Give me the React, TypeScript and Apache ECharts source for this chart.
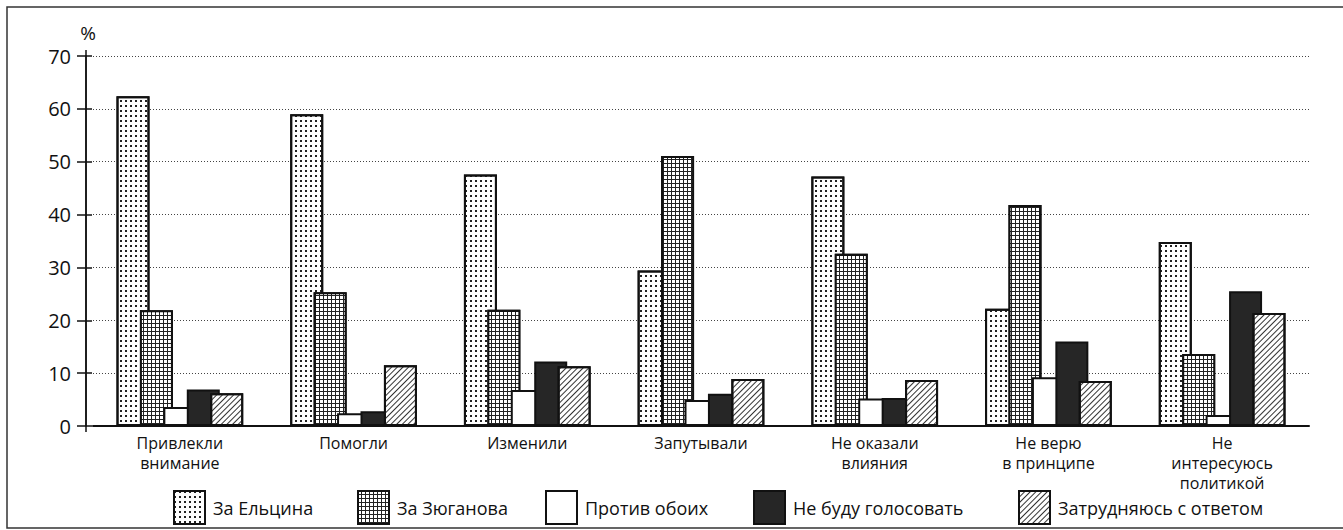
import React, { useEffect, useRef } from "react";
import * as echarts from "echarts";

const categories = [
  "Привлекли\nвнимание",
  "Помогли",
  "Изменили",
  "Запутывали",
  "Не оказали\nвлияния",
  "Не верю\nв принципе",
  "Не\nинтересуюсь\nполитикой",
];
const seriesNames = ["За Ельцина", "За Зюганова", "Против обоих", "Не буду голосовать", "Затрудняюсь с ответом"];
const yeltsin = [62.4, 59.0, 47.6, 29.4, 47.2, 22.2, 34.8];
const zyuganov = [21.9, 25.3, 22.0, 51.1, 32.6, 41.8, 13.6];
const againstBoth = [3.6, 2.4, 6.8, 4.9, 5.2, 9.2, 2.1];
const notVoting = [6.9, 2.8, 12.2, 6.1, 5.3, 16.0, 25.5];
const undecided = [6.2, 11.5, 11.3, 8.9, 8.7, 8.5, 21.4];
const yTicks = [0, 10, 20, 30, 40, 50, 60, 70];

const FONT = "'Open Sans', 'Noto Sans', sans-serif";

export default function App() {
  const ref = useRef<HTMLDivElement>(null);
  useEffect(() => {
    document.body.style.margin = "0";
    const chart = echarts.init(ref.current!, undefined, { renderer: "svg" });

    const dots = {
      symbol: "rect",
      symbolSize: 1,
      color: "#222",
      dashArrayX: [1.3, 2.9],
      dashArrayY: [1.3, 2.9],
    };
    const grid = {
      symbol: "rect",
      symbolSize: 1,
      color: "#fff",
      dashArrayX: [2.4, 1],
      dashArrayY: [2.4, 1],
    };
    const hatch = {
      symbol: "rect",
      symbolSize: 1,
      color: "#333",
      dashArrayX: [1, 0],
      dashArrayY: [1, 2.2],
      rotation: -Math.PI / 4,
    };

    const data = [yeltsin, zyuganov, againstBoth, notVoting, undecided];
    const fills = ["#fff", "#222", "#fff", "#262626", "#fff"];
    const decals: any[] = [dots, grid, null, null, hatch];

    const series = data.map((d, i) => ({
      name: seriesNames[i],
      type: "bar",
      data: d,
      barWidth: 33,
      barGap: "-29%",
      itemStyle: {
        color: fills[i],
        borderColor: "#111",
        borderWidth: 2,
        ...(decals[i] ? { decal: decals[i] } : {}),
      },
    }));

    const legendLefts = [168, 352, 540, 748, 1013];
    const legend = seriesNames.map((n, i) => ({
      data: [n],
      left: legendLefts[i],
      top: 485,
      itemWidth: 31,
      itemHeight: 33,
      icon: "rect",
      textStyle: { fontFamily: FONT, fontSize: 18, color: "#111", padding: [0, 0, 0, 3] },
      selectedMode: false,
    }));

    chart.setOption({
      animation: false,
      backgroundColor: "#fff",
      legend,
      grid: { left: 93, right: 34, top: 56, bottom: 104 },
      xAxis: {
        type: "category",
        data: categories,
        axisLine: { lineStyle: { color: "#111", width: 2 } },
        axisTick: { show: false },
        axisLabel: {
          fontFamily: FONT,
          fontSize: 16,
          color: "#111",
          lineHeight: 20,
          margin: 7,
        },
      },
      yAxis: [
        {
          type: "value",
          min: 0,
          max: 70,
          interval: 10,
          position: "left",
          offset: 7,
          name: "%",
          nameLocation: "end",
          nameGap: 14,
          nameTextStyle: { fontFamily: FONT, fontSize: 19, color: "#111", align: "center", padding: [0, 0, 0, 4] },
          axisLine: { show: true, lineStyle: { color: "#111", width: 1.5 } },
          axisTick: { show: true, length: 9, lineStyle: { color: "#111", width: 1.5 } },
          axisLabel: {
            fontFamily: FONT,
            fontSize: 20,
            color: "#111",
            margin: 15,
            formatter: (v: number) => (yTicks.includes(v) ? String(v) : ""),
          },
          splitLine: { show: true, lineStyle: { color: "#444", width: 1, type: [1, 2] } },
        },
        {
          type: "value",
          min: 0,
          max: 70,
          interval: 10,
          position: "left",
          offset: 7,
          axisLine: { show: false },
          axisTick: { show: true, inside: true, length: 6, lineStyle: { color: "#111", width: 1.5 } },
          axisLabel: { show: false },
          splitLine: { show: false },
        },
      ],
      series,
      graphic: [
        {
          type: "polyline",
          shape: { points: [[1345, 7], [7, 7], [7, 528], [1345, 528]] },
          style: { stroke: "#333", lineWidth: 1.5, fill: null },
          silent: true,
        },
        {
          type: "line",
          shape: { x1: 86, y1: 50, x2: 86, y2: 432 },
          style: { stroke: "#111", lineWidth: 1.5 },
          silent: true,
        },
      ],
    });
    return () => chart.dispose();
  }, []);
  return <div ref={ref} style={{ width: 1343, height: 530 }} />;
}
